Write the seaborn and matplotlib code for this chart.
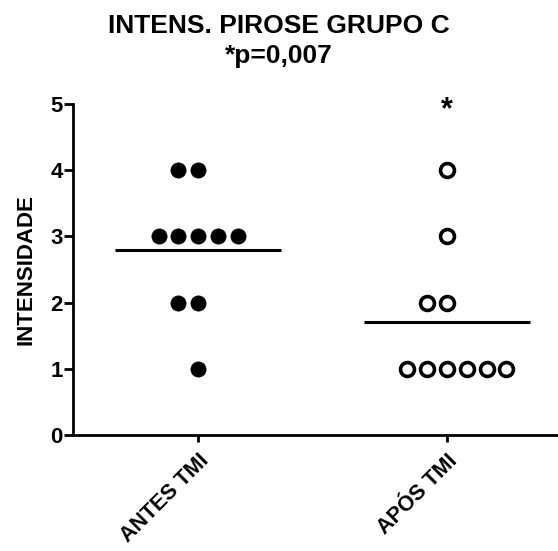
import numpy as np
import pandas as pd
import matplotlib
matplotlib.use("Agg")
import matplotlib.pyplot as plt
import seaborn as sns

categories = ["ANTES TMI", "APÓS TMI"]
antes_tmi = [4, 4, 3, 3, 3, 3, 3, 2, 2, 1]
apos_tmi = [4, 3, 2, 2, 1, 1, 1, 1, 1, 1]
yticks = [0, 1, 2, 3, 4, 5]
title = "INTENS. PIROSE GRUPO C\n*p=0,007"
ylabel = "INTENSIDADE"

sns.set_theme(style="ticks", rc={
    "text.color": "black", "axes.labelcolor": "black",
    "xtick.color": "black", "ytick.color": "black", "axes.edgecolor": "black",
})
plt.rcParams['font.family'] = ['Liberation Sans', 'DejaVu Sans']
plt.rcParams['font.weight'] = 'bold'

def layout(values, ci, step=0.0795):
    rows = []
    vals = pd.Series(values)
    for v, n in vals.value_counts(sort=False).items():
        shift = n // 2 if n <= 5 else n // 2 - 1
        for k in range(n):
            rows.append({"x": ci + (k - shift) * step, "y": v, "group": categories[ci]})
    return pd.DataFrame(rows)

df = pd.concat([layout(antes_tmi, 0), layout(apos_tmi, 1)], ignore_index=True)

fig = plt.figure(figsize=(5.58, 5.51), dpi=100)
ax = fig.add_axes([73 / 558, 1 - 435 / 551, (558 - 73) / 558, (435 - 104) / 551])

sns.scatterplot(data=df[df.group == categories[0]], x="x", y="y", ax=ax,
                color="black", s=120, edgecolor="black", linewidth=0.5, legend=False, clip_on=False)
sns.scatterplot(data=df[df.group == categories[1]], x="x", y="y", ax=ax,
                facecolor="white", s=100, edgecolor="black", linewidth=2.6, legend=False, clip_on=False)

for ci, vals in enumerate([antes_tmi, apos_tmi]):
    ax.hlines(np.mean(vals), ci - 0.333, ci + 0.333, color="black", lw=2.2)

ax.text(1, 4.9, "*", ha="center", va="center", fontsize=22, fontweight="bold")

ax.set_xlim(-0.503, 1.446)
ax.set_ylim(0, 5)
ax.set_yticks(yticks)
ax.set_xticks([0, 1])
ax.set_xticklabels(categories, rotation=45, ha="right", rotation_mode="anchor",
                   fontsize=15.5, fontweight="bold")
ax.set_yticklabels([str(t) for t in yticks], fontsize=16, fontweight="bold")
ax.set_xlabel("")
ax.set_ylabel(ylabel, fontsize=16, fontweight="bold", labelpad=10)
for s in ["top", "right"]:
    ax.spines[s].set_visible(False)
for s in ["left", "bottom"]:
    ax.spines[s].set_linewidth(2)
ax.tick_params(axis="y", length=6.5, width=2, pad=1)
ax.tick_params(axis="x", length=5, width=2, pad=6)

fig.suptitle(title, x=0.5, y=0.975, fontsize=19, fontweight="bold", linespacing=1.35)

fig.savefig("out.png", dpi=100)
